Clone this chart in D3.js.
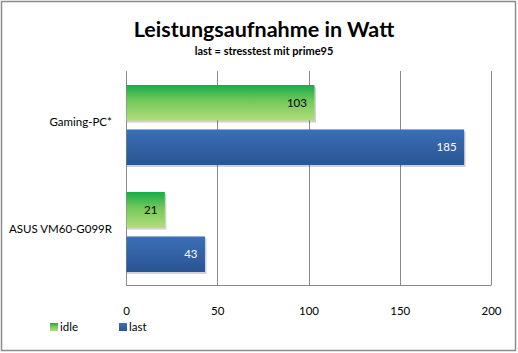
<!DOCTYPE html>
<html><head><meta charset="utf-8">
<script src="https://cdn.jsdelivr.net/npm/d3@7"></script>
<style>body{margin:0;background:#fff}svg{display:block}text{font-family:Lato,"Open Sans",sans-serif}</style>
</head><body><svg id="c" width="518" height="353"></svg>
<script>
const categories = ["Gaming-PC*", "ASUS VM60-G099R"];
const seriesNames = ["idle", "last"];
const idleValues = [103, 21];
const lastValues = [185, 43];
const tickValues = [0, 50, 100, 150, 200];
const titleText = "Leistungsaufnahme in Watt";
const subtitleText = "last = stresstest mit prime95";

(function(){
const svg = d3.select("#c");
const defs = svg.append("defs");
const gG = defs.append("linearGradient").attr("id","gG").attr("x1",0).attr("y1",0).attr("x2",0).attr("y2",1);
gG.append("stop").attr("offset","0%").attr("stop-color","#16ad4a");
gG.append("stop").attr("offset","45%").attr("stop-color","#74c85a");
gG.append("stop").attr("offset","100%").attr("stop-color","#b2dd7a");
const gB = defs.append("linearGradient").attr("id","gB").attr("x1",0).attr("y1",0).attr("x2",0).attr("y2",1);
gB.append("stop").attr("offset","0%").attr("stop-color","#3b6fb7");
gB.append("stop").attr("offset","100%").attr("stop-color","#2a5493");
const fills = ["url(#gG)","url(#gB)"];
const labelColors = ["#000","#fff"];

svg.append("rect").attr("x",1.5).attr("y",1.5).attr("width",514).attr("height",349)
  .attr("fill","#fff").attr("stroke","#8c8c8c").attr("stroke-width",1.5);

svg.append("text").attr("x",264).attr("y",37).attr("text-anchor","middle")
  .attr("font-size",21.5).attr("font-weight","bold").attr("fill","#000").text(titleText);
svg.append("text").attr("x",264).attr("y",55).attr("text-anchor","middle")
  .attr("font-size",11).attr("font-weight","bold").attr("fill","#000").text(subtitleText);

const pL = 126, pR = 491, pT = 71, pB = 285;
const x = d3.scaleLinear().domain([0,200]).range([pL,pR]);
const y = d3.scaleBand().domain(categories).range([pT,pB]);
const inner = d3.scaleBand().domain(seriesNames).range([14, y.bandwidth()-13]).paddingInner(0.2);

svg.append("g").selectAll("line").data(tickValues).join("line")
  .attr("x1",d=>Math.round(x(d))+0.5).attr("x2",d=>Math.round(x(d))+0.5)
  .attr("y1",pT).attr("y2",pB).attr("stroke","#8a8a8a").attr("stroke-width",1);
svg.append("line").attr("x1",pL).attr("x2",pR+0.5).attr("y1",pB+0.5).attr("y2",pB+0.5)
  .attr("stroke","#8a8a8a");

const xAxis = d3.axisBottom(x).tickValues(tickValues).tickSize(0).tickPadding(0);
const ax = svg.append("g").attr("transform",`translate(0,${pB+22})`).call(xAxis);
ax.select(".domain").remove();
ax.selectAll("text").attr("font-size",11.5).attr("fill","#000").attr("font-family","Lato,'Open Sans',sans-serif");

const yAxis = d3.axisLeft(y).tickSize(0).tickPadding(0);
const ay = svg.append("g").attr("transform",`translate(${pL-14},0)`).call(yAxis);
ay.select(".domain").remove();
ay.selectAll("text").attr("font-size",11.5).attr("fill","#000").attr("font-family","Lato,'Open Sans',sans-serif")
  .attr("dy","0.1em");

const data = [];
categories.forEach((c,i)=>{
  data.push({cat:c, s:0, v:idleValues[i]});
  data.push({cat:c, s:1, v:lastValues[i]});
});

const g = svg.append("g");
g.selectAll("rect.sh").data(data).join("rect").attr("class","sh")
  .attr("x",x(0)+1).attr("y",d=>y(d.cat)+inner(seriesNames[d.s])+2)
  .attr("width",d=>x(d.v)-x(0)+1).attr("height",inner.bandwidth())
  .attr("fill","#000").attr("opacity",0.18);
g.selectAll("rect.bar").data(data).join("rect").attr("class","bar")
  .attr("x",x(0)+0.5).attr("y",d=>y(d.cat)+inner(seriesNames[d.s]))
  .attr("width",d=>x(d.v)-x(0)).attr("height",inner.bandwidth())
  .attr("fill",d=>fills[d.s]);
g.selectAll("text.val").data(data).join("text").attr("class","val")
  .attr("x",d=>x(d.v)-7).attr("y",d=>y(d.cat)+inner(seriesNames[d.s])+inner.bandwidth()/2+4)
  .attr("text-anchor","end").attr("font-size",11.5).attr("fill",d=>labelColors[d.s]).text(d=>d.v);

const lg = svg.append("g");
const lx = [50, 119];
seriesNames.forEach((n,i)=>{
  lg.append("rect").attr("x",lx[i]).attr("y",323).attr("width",8).attr("height",8).attr("fill",fills[i]);
  lg.append("text").attr("x",lx[i]+10).attr("y",331).attr("font-size",11.5).attr("fill","#000").text(n);
});
})();
</script></body></html>
